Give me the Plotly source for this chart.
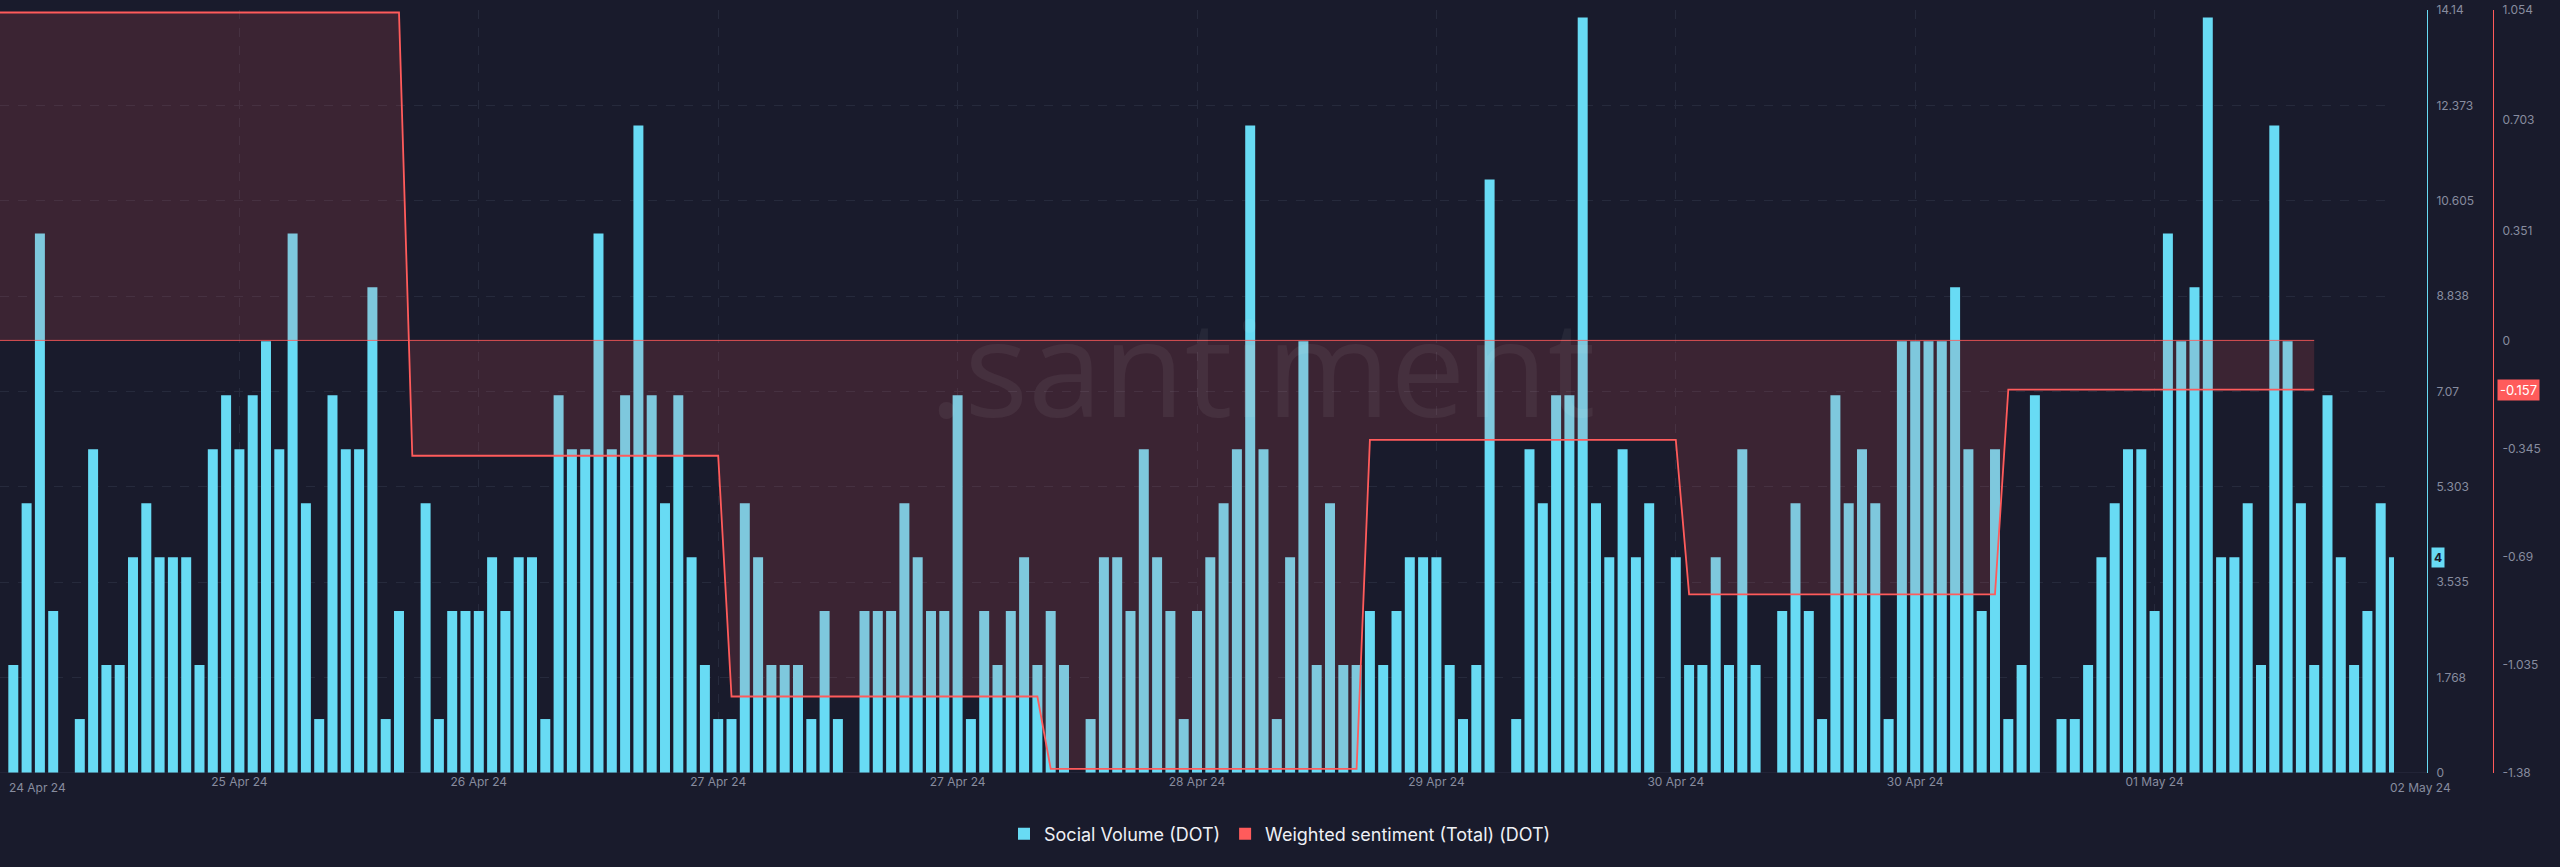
import plotly.graph_objects as go

# ---------------- data ----------------
volume = [
    2, 5, 10, 3, 0, 1, 6, 2, 2, 4,
    5, 4, 4, 4, 2, 6, 7, 6, 7, 8,
    6, 10, 5, 1, 7, 6, 6, 9, 1, 3,
    0, 5, 1, 3, 3, 3, 4, 3, 4, 4,
    1, 7, 6, 6, 10, 6, 7, 12, 7, 5,
    7, 4, 2, 1, 1, 5, 4, 2, 2, 2,
    1, 3, 1, 0, 3, 3, 3, 5, 4, 3,
    3, 7, 1, 3, 2, 3, 4, 2, 3, 2,
    0, 1, 4, 4, 3, 6, 4, 3, 1, 3,
    4, 5, 6, 12, 6, 1, 4, 8, 2, 5,
    2, 2, 3, 2, 3, 4, 4, 4, 2, 1,
    2, 11, 0, 1, 6, 5, 7, 7, 14, 5,
    4, 6, 4, 5, 0, 4, 2, 2, 4, 2,
    6, 2, 0, 3, 5, 3, 1, 7, 5, 6,
    5, 1, 8, 8, 8, 8, 9, 6, 3, 6,
    1, 2, 7, 0, 1, 1, 2, 4, 5, 6,
    6, 3, 10, 8, 9, 14, 4, 4, 5, 2,
    12, 8, 5, 2, 7, 4, 2, 3, 5, 4,
]
hours = list(range(len(volume)))

# weighted sentiment: one value per period, given by first/last hour index
sent_start = [-1, 30, 54, 78, 102, 126, 150]
sent_end = [29, 53, 77, 101, 125, 149, 173]
sent_value = [1.046, -0.368, -1.136, -1.367, -0.317, -0.81, -0.157]

tick_idx = [-1, 17, 35, 53, 71, 89, 107, 125, 143, 161, 179]
tick_labels = ["24 Apr 24", "25 Apr 24", "26 Apr 24", "27 Apr 24", "27 Apr 24",
               "28 Apr 24", "29 Apr 24", "30 Apr 24", "30 Apr 24", "01 May 24",
               "02 May 24"]

vol_ticks = [0, 1.768, 3.535, 5.303, 7.07, 8.838, 10.605, 12.373, 14.14]
vol_tick_text = ["0", "1.768", "3.535", "5.303", "7.07", "8.838", "10.605", "12.373", "14.14"]
sent_ticks = [-1.38, -1.035, -0.69, -0.345, 0, 0.351, 0.703, 1.054]
sent_tick_text = ["-1.38", "-1.035", "-0.69", "-0.345", "0", "0.351", "0.703", "1.054"]

# ---------------- styling ----------------
W, H = 2560, 867
BG = "#191b2c"
CYAN = "#68dbf4"
RED = "#ff5b5b"
GRID = "#262a3c"
TICK = "#878c9f"
FONT = "Inter"

PLOT_R = 2394
sx, sy = [], []
for s, e, v in zip(sent_start, sent_end, sent_value):
    sx += [s, e]
    sy += [v, v]

fig = go.Figure()
fig.add_trace(go.Bar(x=hours, y=volume, marker=dict(color=CYAN, line=dict(width=0)),
                     name="Social Volume (DOT)", showlegend=False, yaxis="y"))
fig.add_trace(go.Scatter(x=sx, y=sy, yaxis="y2", mode="lines",
                         line=dict(color=RED, width=1.8),
                         fill="tozeroy", fillcolor="rgba(255,91,91,0.15)",
                         name="Weighted sentiment (Total) (DOT)", showlegend=False,
                         hoverinfo="skip"))
fig.add_trace(go.Scatter(x=[sx[0], sx[-1]], y=[0, 0], yaxis="y2", mode="lines",
                         line=dict(color="rgba(255,91,91,0.85)", width=1),
                         showlegend=False, hoverinfo="skip"))
# legend entries
fig.add_trace(go.Scatter(x=[None], y=[None], mode="markers",
                         marker=dict(symbol="square", size=12, color=CYAN),
                         name="Social Volume (DOT)"))
fig.add_trace(go.Scatter(x=[None], y=[None], mode="markers",
                         marker=dict(symbol="square", size=12, color=RED),
                         name="Weighted sentiment (Total) (DOT)"))

lab_y = -(788 - 773) / 763
annotations = [
    dict(text=tick_labels[0], x=tick_idx[0], xref="x", xanchor="left", xshift=7,
         y=lab_y, yref="paper", yanchor="middle", showarrow=False,
         font=dict(family=FONT, size=12, color=TICK)),
    dict(text=tick_labels[-1], x=tick_idx[-1], xref="x", xanchor="left", xshift=-6,
         y=lab_y, yref="paper", yanchor="middle", showarrow=False,
         font=dict(family=FONT, size=12, color=TICK)),
    dict(text=f"{sent_value[-1]:.3f}", x=2497 / W, xref="paper", xanchor="left",
         y=sent_value[-1], yref="y2", yanchor="middle", showarrow=False,
         bgcolor=RED, borderpad=2, font=dict(family=FONT, size=13, color="#ffffff")),
    dict(text=f"<b>{volume[-1]}</b>", x=2431 / W, xref="paper", xanchor="left",
         y=volume[-1], yref="y", yanchor="middle", showarrow=False,
         bgcolor=CYAN, borderpad=2, font=dict(family=FONT, size=12, color="#181a2b")),
    dict(text=".santiment", x=1262 / W, xref="paper", xanchor="center",
         y=(773 - 365) / 763, yref="paper", yanchor="middle", showarrow=False,
         font=dict(family="Open Sans", size=134, color="rgba(255,255,255,0.055)")),
]

fig.update_layout(
    width=W, height=H,
    margin=dict(l=0, r=0, t=10, b=94),
    paper_bgcolor=BG, plot_bgcolor=BG,
    bargap=0.25,
    font=dict(family=FONT, color=TICK, size=12),
    xaxis=dict(domain=[0, PLOT_R / W], range=[-1, 179],
               tickvals=tick_idx[1:-1], ticktext=tick_labels[1:-1],
               showgrid=True, gridcolor=GRID, griddash="dash", gridwidth=1,
               zeroline=False, showline=False, ticks="",
               tickfont=dict(family=FONT, size=12, color=TICK)),
    yaxis=dict(anchor="free", position=2427 / W, side="right",
               range=[0, 14.14], tickvals=vol_ticks, ticktext=vol_tick_text,
               showgrid=True, gridcolor=GRID, griddash="dash", gridwidth=1,
               zeroline=False, showline=True, linecolor=CYAN, linewidth=1,
               ticks="", ticklabelstandoff=6,
               tickfont=dict(family=FONT, size=12, color=TICK)),
    yaxis2=dict(anchor="free", position=2493 / W, side="right", overlaying="y",
                range=[-1.38, 1.054], tickvals=sent_ticks, ticktext=sent_tick_text,
                showgrid=False, zeroline=False, showline=True, linecolor=RED,
                linewidth=1, ticks="", ticklabelstandoff=6,
                tickfont=dict(family=FONT, size=12, color=TICK)),
    legend=dict(orientation="h", x=0.5, xanchor="center", y=-(834 - 773) / 763,
                yanchor="middle", font=dict(family=FONT, size=18, color="#eef0f5"),
                bgcolor="rgba(0,0,0,0)", itemwidth=30, tracegroupgap=0),
    shapes=[dict(type="line", xref="paper", yref="y", x0=0, x1=2427 / W, y0=0, y1=0,
                 line=dict(color="#2c2f42", width=1))],
    annotations=annotations,
    showlegend=True,
)

fig.write_html("out.html")
